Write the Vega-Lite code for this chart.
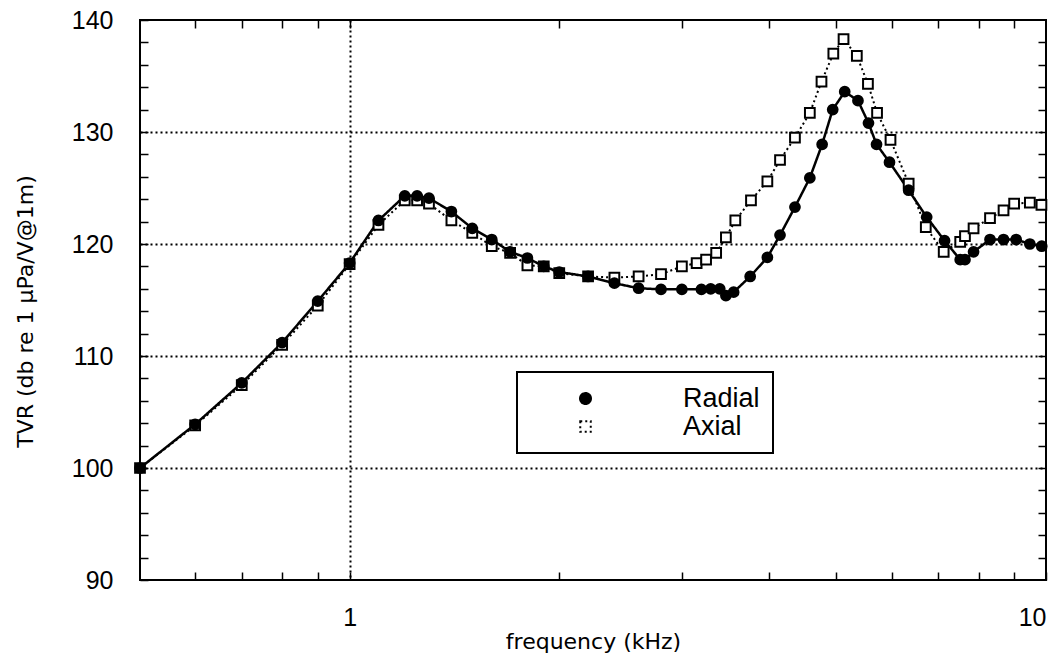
{
  "$schema": "https://vega.github.io/schema/vega-lite/v6.json",
  "width": 906,
  "height": 560,
  "autosize": {"type": "none"},
  "padding": {"left": 140, "top": 20, "right": 18, "bottom": 90},
  "background": "white",
  "config": {
    "view": {"stroke": "black", "strokeWidth": 2},
    "axis": {
      "labelFont": "Liberation Sans",
      "labelFontSize": 25,
      "labelColor": "black",
      "titleFont": "DejaVu Sans",
      "titleFontSize": 22,
      "titleFontWeight": "normal",
      "titleColor": "black",
      "tickColor": "black",
      "tickWidth": 1.5,
      "tickSize": -8,
      "domain": false,
      "gridColor": "black",
      "gridDash": [2, 3],
      "gridWidth": 2
    },
    "legend": {
      "orient": "none",
      "legendX": 377,
      "legendY": 352,
      "fillColor": "white",
      "strokeColor": "black",
      "strokeWidth": 2,
      "padding": 13,
      "rowPadding": 0,
      "labelFont": "Liberation Sans",
      "labelFontSize": 27,
      "labelColor": "black",
      "symbolSize": 110,
      "symbolOffset": 42,
      "labelOffset": 84,
      "symbolOpacity": 1,
      "symbolStrokeWidth": 2,
      "title": null
    }
  },
  "data": {
    "values": [
      {"series": "Radial", "f": 0.5, "tvr": 100.0},
      {"series": "Radial", "f": 0.6, "tvr": 103.9},
      {"series": "Radial", "f": 0.7, "tvr": 107.6},
      {"series": "Radial", "f": 0.8, "tvr": 111.2},
      {"series": "Radial", "f": 0.9, "tvr": 114.9},
      {"series": "Radial", "f": 1.0, "tvr": 118.3},
      {"series": "Radial", "f": 1.1, "tvr": 122.1},
      {"series": "Radial", "f": 1.2, "tvr": 124.3},
      {"series": "Radial", "f": 1.25, "tvr": 124.3},
      {"series": "Radial", "f": 1.3, "tvr": 124.1},
      {"series": "Radial", "f": 1.4, "tvr": 122.9},
      {"series": "Radial", "f": 1.5, "tvr": 121.4},
      {"series": "Radial", "f": 1.6, "tvr": 120.4},
      {"series": "Radial", "f": 1.7, "tvr": 119.3},
      {"series": "Radial", "f": 1.8, "tvr": 118.75},
      {"series": "Radial", "f": 1.9, "tvr": 118.0},
      {"series": "Radial", "f": 2.0, "tvr": 117.5},
      {"series": "Radial", "f": 2.2, "tvr": 117.1},
      {"series": "Radial", "f": 2.4, "tvr": 116.5},
      {"series": "Radial", "f": 2.6, "tvr": 116.05},
      {"series": "Radial", "f": 2.8, "tvr": 115.95},
      {"series": "Radial", "f": 3.0, "tvr": 115.95},
      {"series": "Radial", "f": 3.2, "tvr": 115.95},
      {"series": "Radial", "f": 3.3, "tvr": 116.0},
      {"series": "Radial", "f": 3.4, "tvr": 116.0},
      {"series": "Radial", "f": 3.47, "tvr": 115.4},
      {"series": "Radial", "f": 3.56, "tvr": 115.7},
      {"series": "Radial", "f": 3.76, "tvr": 117.1},
      {"series": "Radial", "f": 3.98, "tvr": 118.8},
      {"series": "Radial", "f": 4.15, "tvr": 120.8},
      {"series": "Radial", "f": 4.36, "tvr": 123.3},
      {"series": "Radial", "f": 4.58, "tvr": 125.9},
      {"series": "Radial", "f": 4.77, "tvr": 128.9},
      {"series": "Radial", "f": 4.94, "tvr": 132.0},
      {"series": "Radial", "f": 5.14, "tvr": 133.6},
      {"series": "Radial", "f": 5.37, "tvr": 132.8},
      {"series": "Radial", "f": 5.56, "tvr": 130.8},
      {"series": "Radial", "f": 5.71, "tvr": 128.9},
      {"series": "Radial", "f": 5.96, "tvr": 127.3},
      {"series": "Radial", "f": 6.35, "tvr": 124.8},
      {"series": "Radial", "f": 6.74, "tvr": 122.4},
      {"series": "Radial", "f": 7.15, "tvr": 120.3},
      {"series": "Radial", "f": 7.53, "tvr": 118.6},
      {"series": "Radial", "f": 7.65, "tvr": 118.6},
      {"series": "Radial", "f": 7.87, "tvr": 119.3},
      {"series": "Radial", "f": 8.31, "tvr": 120.4},
      {"series": "Radial", "f": 8.69, "tvr": 120.4},
      {"series": "Radial", "f": 9.06, "tvr": 120.4},
      {"series": "Radial", "f": 9.48, "tvr": 120.0},
      {"series": "Radial", "f": 9.86, "tvr": 119.8},
      {"series": "Axial", "f": 0.5, "tvr": 100.0},
      {"series": "Axial", "f": 0.6, "tvr": 103.8},
      {"series": "Axial", "f": 0.7, "tvr": 107.4},
      {"series": "Axial", "f": 0.8, "tvr": 111.0},
      {"series": "Axial", "f": 0.9, "tvr": 114.5},
      {"series": "Axial", "f": 1.0, "tvr": 118.2},
      {"series": "Axial", "f": 1.1, "tvr": 121.7},
      {"series": "Axial", "f": 1.2, "tvr": 123.9},
      {"series": "Axial", "f": 1.25, "tvr": 123.9},
      {"series": "Axial", "f": 1.3, "tvr": 123.6},
      {"series": "Axial", "f": 1.4, "tvr": 122.1},
      {"series": "Axial", "f": 1.5, "tvr": 121.0},
      {"series": "Axial", "f": 1.6, "tvr": 119.8},
      {"series": "Axial", "f": 1.7, "tvr": 119.2},
      {"series": "Axial", "f": 1.8, "tvr": 118.1},
      {"series": "Axial", "f": 1.9, "tvr": 118.0},
      {"series": "Axial", "f": 2.0, "tvr": 117.4},
      {"series": "Axial", "f": 2.2, "tvr": 117.1},
      {"series": "Axial", "f": 2.4, "tvr": 117.0},
      {"series": "Axial", "f": 2.6, "tvr": 117.1},
      {"series": "Axial", "f": 2.8, "tvr": 117.3},
      {"series": "Axial", "f": 3.0, "tvr": 118.0},
      {"series": "Axial", "f": 3.15, "tvr": 118.3},
      {"series": "Axial", "f": 3.25, "tvr": 118.6},
      {"series": "Axial", "f": 3.36, "tvr": 119.2},
      {"series": "Axial", "f": 3.47, "tvr": 120.6},
      {"series": "Axial", "f": 3.58, "tvr": 122.1},
      {"series": "Axial", "f": 3.77, "tvr": 123.9},
      {"series": "Axial", "f": 3.98, "tvr": 125.6},
      {"series": "Axial", "f": 4.15, "tvr": 127.5},
      {"series": "Axial", "f": 4.36, "tvr": 129.5},
      {"series": "Axial", "f": 4.58, "tvr": 131.7},
      {"series": "Axial", "f": 4.76, "tvr": 134.5},
      {"series": "Axial", "f": 4.95, "tvr": 137.0},
      {"series": "Axial", "f": 5.12, "tvr": 138.3},
      {"series": "Axial", "f": 5.35, "tvr": 136.8},
      {"series": "Axial", "f": 5.55, "tvr": 134.3},
      {"series": "Axial", "f": 5.72, "tvr": 131.7},
      {"series": "Axial", "f": 5.98, "tvr": 129.3},
      {"series": "Axial", "f": 6.35, "tvr": 125.4},
      {"series": "Axial", "f": 6.72, "tvr": 121.5},
      {"series": "Axial", "f": 7.13, "tvr": 119.3},
      {"series": "Axial", "f": 7.53, "tvr": 120.2},
      {"series": "Axial", "f": 7.65, "tvr": 120.7},
      {"series": "Axial", "f": 7.87, "tvr": 121.4},
      {"series": "Axial", "f": 8.31, "tvr": 122.3},
      {"series": "Axial", "f": 8.69, "tvr": 123.0},
      {"series": "Axial", "f": 9.0, "tvr": 123.6},
      {"series": "Axial", "f": 9.48, "tvr": 123.7},
      {"series": "Axial", "f": 9.85, "tvr": 123.5}
    ]
  },
  "layer": [
    {
      "mark": {"type": "line", "color": "black"},
      "encoding": {
        "x": {
          "field": "f", "type": "quantitative",
          "scale": {"type": "log", "domain": [0.5, 10], "nice": false},
          "axis": {
            "orient": "bottom",
            "values": [0.6, 0.7, 0.8, 0.9, 1, 2, 3, 4, 5, 6, 7, 8, 9, 10],
            "format": "~g",
            "labelExpr": "datum.value == 1 || datum.value == 10 ? datum.label : ''",
            "labelPadding": 33,
            "labelFlush": true,
            "grid": true,
            "gridOpacity": {"condition": {"test": "datum.value == 1", "value": 1}, "value": 0},
            "title": "frequency  (kHz)",
            "titleY": 68,
            "titleBaseline": "alphabetic"
          }
        },
        "y": {
          "field": "tvr", "type": "quantitative",
          "scale": {"domain": [90, 140], "nice": false, "zero": false},
          "axis": {
            "orient": "left",
            "values": [90, 92, 94, 96, 98, 100, 102, 104, 106, 108, 110, 112, 114, 116, 118, 120, 122, 124, 126, 128, 130, 132, 134, 136, 138, 140],
            "labelExpr": "datum.value % 10 == 0 ? datum.label : ''",
            "labelPadding": 35,
            "grid": true,
            "gridOpacity": {"condition": {"test": "datum.value % 10 == 0 && datum.value > 90 && datum.value < 140", "value": 1}, "value": 0},
            "title": "TVR  (db re 1 µPa/V@1m)",
            "titleAngle": -90,
            "titleX": -115,
            "titleY": 291,
            "titleAlign": "center",
            "titleBaseline": "middle"
          }
        },
        "strokeDash": {
          "field": "series", "type": "nominal",
          "scale": {"domain": ["Radial", "Axial"], "range": [[1, 0], [2, 3]]},
          "legend": {"title": null}
        },
        "strokeWidth": {
          "field": "series", "type": "nominal",
          "scale": {"domain": ["Radial", "Axial"], "range": [2.5, 2]},
          "legend": {"title": null}
        }
      }
    },
    {
      "mark": {"type": "point", "stroke": "black", "strokeWidth": 2, "size": 95, "opacity": 1},
      "encoding": {
        "x": {
          "field": "f", "type": "quantitative",
          "scale": {"type": "log", "domain": [0.5, 10], "nice": false},
          "axis": {
            "orient": "top",
            "values": [0.6, 0.7, 0.8, 0.9, 1, 2, 3, 4, 5, 6, 7, 8, 9],
            "labels": false,
            "grid": false,
            "title": null
          }
        },
        "y": {
          "field": "tvr", "type": "quantitative",
          "scale": {"domain": [90, 140], "nice": false, "zero": false},
          "axis": {
            "orient": "right",
            "values": [92, 94, 96, 98, 100, 102, 104, 106, 108, 110, 112, 114, 116, 118, 120, 122, 124, 126, 128, 130, 132, 134, 136, 138],
            "labels": false,
            "grid": false,
            "title": null
          }
        },
        "order": {"field": "series", "sort": "ascending"},
        "shape": {
          "field": "series", "type": "nominal",
          "scale": {"domain": ["Radial", "Axial"], "range": ["circle", "square"]},
          "legend": {"title": null}
        },
        "fill": {
          "field": "series", "type": "nominal",
          "scale": {"domain": ["Radial", "Axial"], "range": ["black", "white"]},
          "legend": {"title": null}
        }
      }
    }
  ],
  "resolve": {"axis": {"x": "independent", "y": "independent"}}
}
